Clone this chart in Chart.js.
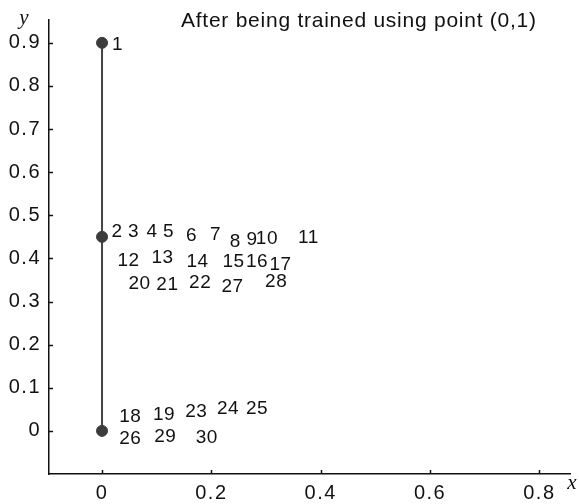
<!DOCTYPE html>
<html>
<head>
<meta charset="utf-8">
<script src="https://cdn.jsdelivr.net/npm/chart.js@4.4.1/dist/chart.umd.min.js"></script>
<style>
  html, body { margin: 0; padding: 0; background: #ffffff; }
  #wrap { width: 579px; height: 504px; }
</style>
</head>
<body>
<div id="wrap"><canvas id="c" width="579" height="504"></canvas></div>
<script>
// ---- data ----
const pointX = [0, 0, 0];
const pointY = [0.9, 0.45, 0];

const labelText = ['1','2','3','4','5','6','7','8','9','10',
                   '11','12','13','14','15','16','17','18','19','20',
                   '21','22','23','24','25','26','27','28','29','30'];
const labelX = [0.028, 0.027, 0.057, 0.091, 0.121, 0.163, 0.207, 0.243, 0.274, 0.301,
                0.377, 0.048, 0.110, 0.174, 0.240, 0.283, 0.326, 0.051, 0.113, 0.068,
                0.119, 0.179, 0.172, 0.230, 0.283, 0.051, 0.238, 0.318, 0.115, 0.191];
const labelY = [0.899, 0.463, 0.463, 0.465, 0.463, 0.456, 0.458, 0.440, 0.445, 0.447,
                0.451, 0.396, 0.403, 0.394, 0.394, 0.394, 0.387, 0.035, 0.039, 0.344,
                0.341, 0.345, 0.047, 0.054, 0.054, -0.016, 0.336, 0.348, -0.011, -0.013];

const xTickValues = [0, 0.2, 0.4, 0.6, 0.8];
const xTickLabels = ['0', '0.2', '0.4', '0.6', '0.8'];
const yTickValues = [0, 0.1, 0.2, 0.3, 0.4, 0.5, 0.6, 0.7, 0.8, 0.9];
const yTickLabels = ['0', '0.1', '0.2', '0.3', '0.4', '0.5', '0.6', '0.7', '0.8', '0.9'];

const titleText = 'After being trained using point (0,1)';
const xAxisName = 'x';
const yAxisName = 'y';

// ---- plugins ----
const decorPlugin = {
  id: 'decor',
  beforeDraw(chart) {
    try { chart.ctx.letterSpacing = '1.5px'; } catch (e) {}
  },
  beforeDatasetsDraw(chart) {
    try { chart.ctx.letterSpacing = '0px'; } catch (e) {}
  },
  afterDraw(chart) {
    const ctx = chart.ctx;
    const xs = chart.scales.x, ys = chart.scales.y;
    const ca = chart.chartArea;
    ctx.save();
    // inward tick marks
    ctx.strokeStyle = '#111';
    ctx.lineWidth = 1.5;
    xTickValues.forEach(v => {
      const px = Math.round(xs.getPixelForValue(v)) + 0.5;
      ctx.beginPath(); ctx.moveTo(px, ca.bottom); ctx.lineTo(px, ca.bottom - 4); ctx.stroke();
    });
    yTickValues.forEach(v => {
      const py = Math.round(ys.getPixelForValue(v)) + 0.5;
      ctx.beginPath(); ctx.moveTo(ca.left, py); ctx.lineTo(ca.left + 4, py); ctx.stroke();
    });
    // point labels
    ctx.fillStyle = '#111';
    ctx.font = '19px "Liberation Sans", Arial, sans-serif';
    ctx.textAlign = 'center';
    ctx.textBaseline = 'middle';
    try { ctx.letterSpacing = '0.5px'; } catch (e) {}
    for (let i = 0; i < labelText.length; i++) {
      ctx.fillText(labelText[i], xs.getPixelForValue(labelX[i]) + 0.3, ys.getPixelForValue(labelY[i]) + 1);
    }
    // title
    ctx.textAlign = 'left';
    ctx.font = '21px "Liberation Sans", Arial, sans-serif';
    try { ctx.letterSpacing = '0.75px'; } catch (e) {}
    ctx.fillText(titleText, 181, 21);
    try { ctx.letterSpacing = '0px'; } catch (e) {}
    // axis names
    ctx.font = 'italic 21px "Liberation Serif", "Times New Roman", serif';
    ctx.textAlign = 'center';
    ctx.fillText(yAxisName, ca.left - 25, ca.top - 2);
    ctx.fillText(xAxisName, ca.right + 2, ca.bottom + 9);
    ctx.restore();
  }
};

// ---- chart ----
new Chart(document.getElementById('c'), {
  type: 'scatter',
  data: {
    datasets: [{
      data: pointX.map((x, i) => ({ x: x, y: pointY[i] })),
      showLine: true,
      borderColor: '#444444',
      borderWidth: 2,
      backgroundColor: '#3c3c3c',
      pointBackgroundColor: '#3c3c3c',
      pointBorderColor: '#3c3c3c',
      pointRadius: 5.5,
      pointBorderWidth: 1
    }]
  },
  options: {
    responsive: false,
    animation: false,
    events: [],
    layout: { padding: { top: 17, right: 9, left: 0, bottom: 0 } },
    plugins: { legend: { display: false }, tooltip: { enabled: false }, title: { display: false } },
    scales: {
      x: {
        type: 'linear',
        min: -0.097,
        max: 0.856,
        grid: { display: false, drawTicks: false },
        border: { display: true, color: '#111', width: 1.5 },
        ticks: {
          color: '#111',
          font: { family: '"Liberation Sans", Arial, sans-serif', size: 20 },
          padding: 7,
          maxRotation: 0,
          autoSkip: false,
          callback: (v, i) => xTickLabels[i]
        },
        afterBuildTicks: s => { s.ticks = xTickValues.map(v => ({ value: v })); },
        afterFit: s => { s.height = 30; }
      },
      y: {
        type: 'linear',
        min: -0.1,
        max: 0.953,
        grid: { display: false, drawTicks: false },
        border: { display: true, color: '#111', width: 1.5 },
        ticks: {
          color: '#111',
          font: { family: '"Liberation Sans", Arial, sans-serif', size: 20 },
          padding: 8,
          autoSkip: false,
          callback: (v, i) => yTickLabels[i]
        },
        afterBuildTicks: s => { s.ticks = yTickValues.map(v => ({ value: v })); },
        afterFit: s => { s.width = 49; }
      }
    }
  },
  plugins: [decorPlugin]
});
</script>
</body>
</html>
